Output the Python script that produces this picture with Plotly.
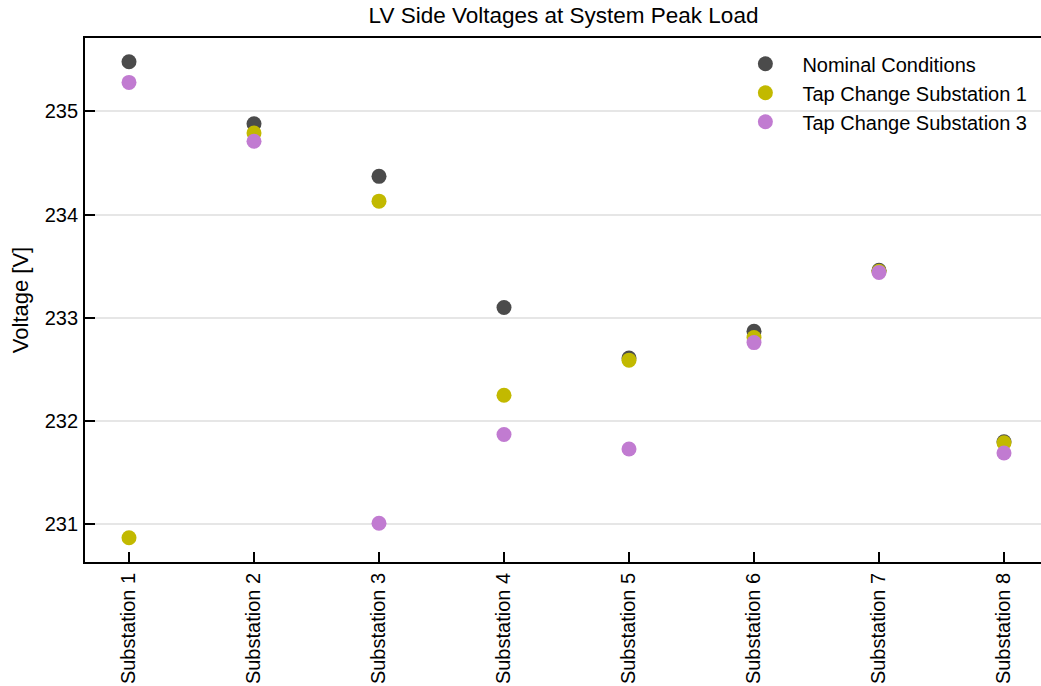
import plotly.graph_objects as go

categories = ["Substation 1", "Substation 2", "Substation 3", "Substation 4",
              "Substation 5", "Substation 6", "Substation 7", "Substation 8"]
nominal = [235.48, 234.88, 234.37, 233.10, 232.61, 232.87, 233.46, 231.80]
tap_sub1 = [230.87, 234.79, 234.13, 232.25, 232.59, 232.81, 233.45, 231.79]
tap_sub3 = [235.28, 234.71, 231.01, 231.87, 231.73, 232.76, 233.44, 231.69]

series = [
    ("Nominal Conditions", nominal, "#4b4b4b"),
    ("Tap Change Substation 1", tap_sub1, "#c2b900"),
    ("Tap Change Substation 3", tap_sub3, "#c17bd1"),
]

fig = go.Figure()
for name, vals, color in series:
    fig.add_trace(go.Scatter(
        x=categories, y=vals, mode="markers", name=name,
        marker=dict(size=15, color=color, line=dict(width=0)),
    ))

font_family = "Liberation Sans, Arial, sans-serif"
fig.update_layout(
    width=1041, height=686,
    margin=dict(l=85, r=0, t=38, b=124),
    paper_bgcolor="white", plot_bgcolor="white",
    font=dict(family=font_family, size=20, color="black"),
    title=dict(text="LV Side Voltages at System Peak Load", x=0.5413, xanchor="center",
               y=0.978, yanchor="middle", font=dict(size=22.5, color="black")),
    showlegend=True,
    legend=dict(x=0.673, y=0.988, xanchor="left", yanchor="top",
                bgcolor="rgba(0,0,0,0)", borderwidth=0, itemwidth=64,
                font=dict(size=20)),
)
fig.update_xaxes(
    type="category", range=[-0.352, 7.296],
    showline=True, linecolor="black", linewidth=1.8, mirror=True,
    ticks="inside", ticklen=10, tickwidth=1.8, tickcolor="black",
    tickangle=-90, showgrid=False, zeroline=False,
    ticklabelstandoff=1,
)
fig.update_yaxes(
    range=[230.635, 235.71], tickvals=[231, 232, 233, 234, 235],
    showline=True, linecolor="black", linewidth=1.8,
    ticks="inside", ticklen=10, tickwidth=1.8, tickcolor="black",
    showgrid=True, gridcolor="#e6e6e6", gridwidth=1.5, zeroline=False,
    ticklabelstandoff=1,
    title=dict(text="Voltage [V]", standoff=10, font=dict(size=22)),
)

fig.write_html(
    "out.html",
    config={"displayModeBar": False},
    post_script="document.body.style.margin='0';document.body.style.overflow='hidden';",
)
